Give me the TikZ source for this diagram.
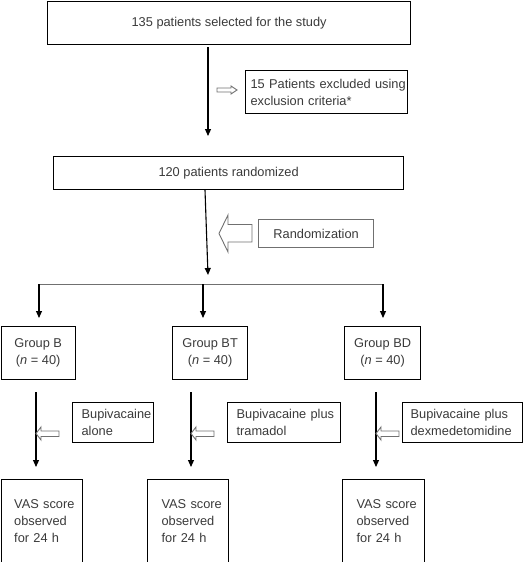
\documentclass[tikz,border=0pt]{standalone}
\usepackage{fontspec}
\setmainfont{Liberation Sans}
\usetikzlibrary{arrows.meta}
\definecolor{txt}{HTML}{3A3A3A}
\definecolor{hol}{HTML}{707070}
\newcommand{\oneline}[1]{\mbox{#1}}
\begin{document}
\begin{tikzpicture}[x=1pt,y=-1pt,
  every node/.style={font=\fontsize{12.8}{16.8}\selectfont, text=txt},
  box/.style={draw=black, line width=1.2pt, anchor=north west, inner ysep=0pt, align=left},
  cbox/.style={draw=black, line width=1.2pt, anchor=north west, inner sep=0pt, align=center},
  arr/.style={draw=black, line width=1.1pt, -{Triangle[length=7pt,width=6pt]}},
  ln/.style={draw=hol, line width=0.9pt},
  hollow/.style={draw=hol, fill=white, line width=0.9pt, line join=miter}
]
\useasboundingbox (0,0) rectangle (525,562);

% top boxes
\node[cbox, minimum width=363pt, minimum height=43pt] (b1) at (47,0.6) {135 patients selected for the study};
\node[box, inner xsep=5pt, text width=152pt, minimum height=43pt] (ex) at (245,70) {\oneline{15 Patients excluded using}\\\oneline{exclusion criteria*}};
\node[cbox, minimum width=350pt, minimum height=33pt] (b2) at (53,156) {120 patients randomized};
\node[cbox, draw=hol, minimum width=115pt, minimum height=28pt] (rnd) at (258,219) {Randomization};

% groups
\node[cbox, minimum width=74pt, minimum height=53pt] (gb) at (0.6,326) {Group B\\(\textit{n} = 40)};
\node[cbox, minimum width=75pt, minimum height=53pt] (gbt) at (172,326) {Group BT\\(\textit{n} = 40)};
\node[cbox, minimum width=76pt, minimum height=53pt] (gbd) at (344,326) {Group BD\\(\textit{n} = 40)};

% treatment boxes
\node[box, inner xsep=9pt, text width=63pt, minimum height=40pt] (t1) at (72,402) {\oneline{Bupivacaine}\\\oneline{alone}};
\node[box, inner xsep=9pt, text width=95pt, minimum height=40pt] (t2) at (227,402) {\oneline{Bupivacaine plus}\\\oneline{tramadol}};
\node[box, inner xsep=8pt, text width=104pt, minimum height=40pt] (t3) at (402,402) {\oneline{Bupivacaine plus}\\\oneline{dexmedetomidine}};

% VAS boxes
\node[box, inner xsep=13pt, text width=55pt, minimum height=83pt] (v1) at (0.6,479) {\oneline{VAS score}\\\oneline{observed}\\\oneline{for 24 h}};
\node[box, inner xsep=14pt, text width=53pt, minimum height=83pt] (v2) at (147,479) {\oneline{VAS score}\\\oneline{observed}\\\oneline{for 24 h}};
\node[box, inner xsep=14pt, text width=54pt, minimum height=83pt] (v3) at (342,479) {\oneline{VAS score}\\\oneline{observed}\\\oneline{for 24 h}};

% main arrows
\coordinate (a1s) at (208,47);
\coordinate (a1e) at (208,136);
\draw[arr] (a1s) -- (a1e);

\coordinate (a2s) at (205,190);
\coordinate (a2e) at (208,275);
\draw[arr] (a2s) -- (a2e);

\coordinate (jl) at (39,284);
\coordinate (jm) at (203,284);
\coordinate (jr) at (383,284);
\draw[ln] (jl) -- (jr);
\draw[arr] (jl) -- (jl |- 0,318);
\draw[arr] (jm) -- (jm |- 0,318);
\draw[arr] (jr) -- (jr |- 0,318);

\coordinate (l1s) at (36,392);
\coordinate (l2s) at (191,392);
\coordinate (l3s) at (376,392);
\draw[arr] (l1s) -- (l1s |- 0,467);
\draw[arr] (l2s) -- (l2s |- 0,467);
\draw[arr] (l3s) -- (l3s |- 0,467);

% hollow arrows
% exclusion (right-pointing)
\draw[hollow] (217,88) -- (231,88) -- (231,86) -- (237,90) -- (231,94) -- (231,92) -- (217,92) -- cycle;
% randomization (left-pointing, big)
\draw[hollow] (252,224.5) -- (228,224.5) -- (228,215) -- (219,233.5) -- (228,252) -- (228,242) -- (252,242) -- cycle;
% small left-pointing
\foreach \x in {36,191,376}{
  \draw[hollow] (\x+23,431) -- (\x+5,431) -- (\x+5,427) -- (\x,433.5) -- (\x+5,440) -- (\x+5,436.5) -- (\x+23,436.5) -- cycle;
}
\end{tikzpicture}
\end{document}
